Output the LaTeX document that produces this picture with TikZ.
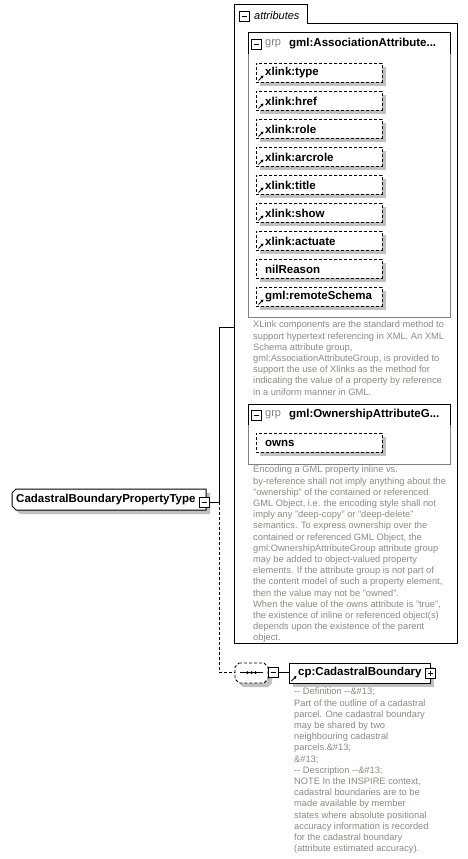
\documentclass[tikz,border=0pt]{standalone}
\usepackage{fontspec}
\setmainfont{Liberation Sans}
\usetikzlibrary{arrows.meta}
\definecolor{shadowgray}{HTML}{C0C0C0}
\definecolor{annot}{HTML}{8A8A80}
\definecolor{grpline}{HTML}{808080}
\newcommand\nmfont{\fontsize{11.5}{13}\selectfont\bfseries}
\tikzset{
  attrbox/.style={draw, fill=white, line width=0.9pt, dash pattern=on 3pt off 2pt, anchor=north west, minimum width=126pt, minimum height=19pt, inner sep=0pt},
  nametext/.style={anchor=west, inner sep=0pt, font=\nmfont},
  desc/.style={anchor=north west, align=left, text=annot, font=\fontsize{9.3}{11.2}\selectfont, inner sep=0pt},
  ctrlbox/.style={draw, fill=white, line width=0.8pt, minimum width=10pt, minimum height=10pt, inner sep=0pt},
  refarrow/.style={-{Triangle[length=2.6pt,width=2.8pt]}, line width=0.9pt},
  conn/.style={line width=1pt},
  dconn/.style={line width=1pt, dash pattern=on 3pt off 2pt},
}
\begin{document}
\begin{tikzpicture}[x=1pt,y=-1pt]
\useasboundingbox (0,0) rectangle (468,859);
% attributes container
\draw[line width=1pt] (234,643) -- (234,5) -- (307,5) -- (307,24) -- (457,24) -- (457,643) -- cycle;
\node[ctrlbox] (attmin) at (244,16) {};
\draw[line width=0.8pt] (241.5,16) -- (246.5,16);
\node[anchor=west, inner sep=0pt, font=\fontsize{11}{13}\selectfont\itshape] (attlbl) at (254,15.5) {attributes};
\coordinate (attin) at (234,327);
% group 1
\draw[grpline, line width=1pt] (248,33) rectangle (450,317);
\draw[line width=1pt] (248,54) -- (248,33) -- (450,33) -- (450,54);
\node[ctrlbox] (g1min) at (256,44) {};
\draw[line width=0.8pt] (253.5,44) -- (258.5,44);
\node[anchor=west, inner sep=0pt, text=grpline, font=\fontsize{11}{13}\selectfont] (g1grp) at (265,44) {grp};
\node[nametext] (g1name) at (289,44) {gml:AssociationAttribute...};
\foreach \lab/\isref [count=\i from 0] in {xlink:type/1, xlink:href/1, xlink:role/1, xlink:arcrole/1, xlink:title/1, xlink:show/1, xlink:actuate/1, nilReason/0, gml:remoteSchema/1}{
  \pgfmathsetmacro\yy{63+28*\i}
  \fill[shadowgray] (260,\yy+4) rectangle (386,\yy+23);
  \node[attrbox] (attr\i) at (256,\yy) {};
  \node[nametext] (attrtext\i) at (265,\yy+10) {\lab};
  \ifnum\isref=1
    \draw[refarrow] (258.5,\yy+17.5) -- (263.5,\yy+12.5);
  \fi
}
\node[desc] (desc1) at (253,321) {XLink components are the standard method to\\support hypertext referencing in XML. An XML\\Schema attribute group,\\gml:AssociationAttributeGroup, is provided to\\support the use of Xlinks as the method for\\indicating the value of a property by reference\\in a uniform manner in GML.};
% group 2
\draw[grpline, line width=1pt] (248,404) rectangle (450,464);
\draw[line width=1pt] (248,425) -- (248,404) -- (450,404) -- (450,425);
\node[ctrlbox] (g2min) at (256,415) {};
\draw[line width=0.8pt] (253.5,415) -- (258.5,415);
\node[anchor=west, inner sep=0pt, text=grpline, font=\fontsize{11}{13}\selectfont] (g2grp) at (265,415) {grp};
\node[nametext] (g2name) at (289,415) {gml:OwnershipAttributeG...};
\fill[shadowgray] (260,437) rectangle (386,456);
\node[attrbox] (owns) at (256,433) {};
\node[nametext] (ownstext) at (265,443) {owns};
\node[desc] (desc2) at (253,466) {Encoding a GML property inline vs.\\by-reference shall not imply anything about the\\"ownership" of the contained or referenced\\GML Object, i.e. the encoding style shall not\\imply any "deep-copy" or "deep-delete"\\semantics. To express ownership over the\\contained or referenced GML Object, the\\gml:OwnershipAttributeGroup attribute group\\may be added to object-valued property\\elements. If the attribute group is not part of\\the content model of such a property element,\\then the value may not be "owned".\\When the value of the owns attribute is "true",\\the existence of inline or referenced object(s)\\depends upon the existence of the parent\\object.};
% main complex type node
\fill[shadowgray] (20,493) -- (210,493) -- (210,514) -- (20,514) -- (16,510) -- (16,497) -- cycle;
\draw[fill=white, line width=1pt] (16,489) -- (206,489) -- (206,510) -- (16,510) -- (12,506) -- (12,493) -- cycle;
\node[nametext] (cbpt) at (16,499.5) {CadastralBoundaryPropertyType};
\node[ctrlbox] (cbptmin) at (204,502) {};
\draw[line width=0.8pt] (201.5,502) -- (206.5,502);
\coordinate (split) at (219,502);
\draw[conn] (cbptmin.east) -- (split) |- (attin);
% sequence
\fill[shadowgray] (243,667) -- (268,667) -- (272,671) -- (272,683) -- (268,687) -- (243,687) -- (239,683) -- (239,671) -- cycle;
\draw[fill=white, line width=0.9pt, dash pattern=on 3pt off 2pt] (239,663) -- (264,663) -- (268,667) -- (268,679) -- (264,683) -- (239,683) -- (235,679) -- (235,667) -- cycle;
\coordinate (seqin) at (235,672);
\draw[line width=1pt] (240,672.5) -- (263,672.5);
\foreach \dx in {247.5,251.5,255.5}{\fill (\dx,672.5) circle (1.5pt);}
\node[ctrlbox] (seqmin) at (273,672.5) {};
\draw[line width=0.8pt] (270.5,672.5) -- (275.5,672.5);
\draw[dconn] (split) |- (seqin);
% cp:CadastralBoundary
\fill[shadowgray] (293,667) rectangle (434,687);
\node[draw, fill=white, line width=1pt, anchor=north west, minimum width=141pt, minimum height=20pt, inner sep=0pt] (cpcb) at (289,663) {};
\node[nametext] (cpcbtext) at (298,672.5) {cp:CadastralBoundary};
\draw[refarrow] (291.5,681) -- (296.5,676);
\node[ctrlbox] (cpplus) at (430,673) {};
\draw[line width=0.8pt] (427.5,673) -- (432.5,673) (430,670.5) -- (430,675.5);
\draw[conn] (seqmin.east) -- (cpcb.west |- seqmin.east);
\node[desc] (desc3) at (294,688) {-{}- Definition -{}-\&\#13;\\Part of the outline of a cadastral\\parcel. One cadastral boundary\\may be shared by two\\neighbouring cadastral\\parcels.\&\#13;\\\&\#13;\\-{}- Description -{}-\&\#13;\\NOTE In the INSPIRE context,\\cadastral boundaries are to be\\made available by member\\states where absolute positional\\accuracy information is recorded\\for the cadastral boundary\\(attribute estimated accuracy).};
\end{tikzpicture}
\end{document}
